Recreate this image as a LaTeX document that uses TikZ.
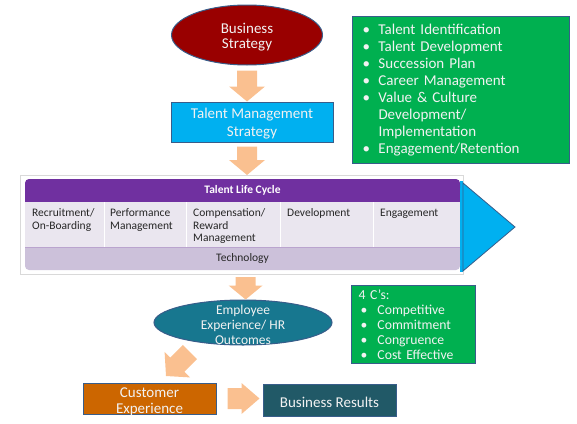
\documentclass[tikz,border=0pt]{standalone}
\usepackage{fontspec}
\setmainfont{Carlito}
\usetikzlibrary{calc,shapes.geometric}
\definecolor{peach}{HTML}{FAC090}
\definecolor{bsred}{HTML}{990000}
\definecolor{cyanb}{HTML}{00B0F0}
\definecolor{grn}{HTML}{00B050}
\definecolor{outl}{HTML}{385D8A}
\definecolor{purp}{HTML}{7030A0}
\definecolor{lav}{HTML}{EAE6EF}
\definecolor{lavtwo}{HTML}{CCC1DA}
\definecolor{tealone}{HTML}{17778F}
\definecolor{orng}{HTML}{CC6600}
\definecolor{dteal}{HTML}{215967}
\definecolor{wtxt}{HTML}{F2F2F2}
\definecolor{framegray}{HTML}{D9D9D9}
\definecolor{txtd}{HTML}{262626}
\newcommand\barrow[5]{\fill[peach] let \p1=(#1), \p2=(#2), \n1={atan2(\y2-\y1,\x2-\x1)}, \n2={veclen(\x2-\x1,\y2-\y1)} in [shift={(\p1)}, rotate=\n1] (0,-#3) -- ({\n2-#5},-#3) -- ({\n2-#5},-#4) -- (\n2,0) -- ({\n2-#5},#4) -- ({\n2-#5},#3) -- (0,#3) -- cycle;}
\newcommand\bl{\makebox[16pt][l]{•}}
\newcommand\cb{\makebox[19pt][l]{\hspace{2pt}•}}
\begin{document}
\begin{tikzpicture}[x=1pt,y=-1pt,every node/.style={inner sep=0pt},
  wt/.style={text=wtxt, align=center, font=\fontsize{15}{15}\selectfont},
  ov/.style={ellipse, draw=outl, line width=1pt},
  bx/.style={rectangle, draw=outl, line width=1pt},
  coltext/.style={anchor=north west, align=left, text=txtd, font=\fontsize{11.5}{12.5}\selectfont},
  divider/.style={white, line width=1pt}]
\useasboundingbox (0,0) rectangle (577,423);
% Business strategy
\node[ov, fill=bsred, minimum width=151pt, minimum height=60pt] (bs) at (247,35) {};
\node[wt] (bst) at (247,37.5) {Business\\Strategy};
% Talent management strategy
\node[bx, fill=cyanb, minimum width=162pt, minimum height=40pt] (tms) at (252,122) {};
\node[wt, font=\fontsize{15}{18}\selectfont] (tmst) at (252,124) {Talent Management\\Strategy};
% Top green box
\node[bx, fill=grn, minimum width=217pt, minimum height=147pt, anchor=north west, text=wtxt, align=left, text width=197pt, inner xsep=10pt, font=\fontsize{15}{17}\selectfont] (tm) at (352,16) {\bl Talent Identification\\\bl Talent Development\\\bl Succession Plan\\\bl Career Management\\\bl Value \& Culture\\\hspace*{16pt}Development/\\\hspace*{16pt}Implementation\\\bl Engagement/Retention};
% Talent life cycle table
\node[draw=framegray, fill=white, line width=1.2pt, minimum width=443pt, minimum height=99pt, anchor=north west] (tlc) at (20,175) {};
\fill[cyanb] (460,181) rectangle (463,272);
\fill[purp] (25,202) rectangle (460,186);
\fill[purp, rounded corners=4pt] (25,192) rectangle (460,179);
\fill[lav] (25,202) rectangle (460,247);
\fill[lavtwo] (25,247) rectangle (460,262);
\fill[lavtwo, rounded corners=4pt] (25,256) rectangle (460,270);
\draw[divider] (104,202) -- (104,247);
\draw[divider] (186,202) -- (186,247);
\draw[divider] (280,202) -- (280,247);
\draw[divider] (373,202) -- (373,247);
\draw[color=lavtwo!80!purp, line width=0.6pt] (25,247) -- (460,247);
\node[text=white, font=\bfseries\fontsize{11.5}{12}\selectfont] (hd) at (242.5,190) {Talent Life Cycle};
\node[coltext] (c1) at (32,207.75) {\strut Recruitment/\\On-Boarding};
\node[coltext] (c2) at (110,207.75) {\strut Performance\\Management};
\node[coltext] (c3) at (193,207.75) {\strut Compensation/\\Reward\\Management};
\node[coltext] (c4) at (287,207.75) {\strut Development};
\node[coltext] (c5) at (380,207.75) {\strut Engagement};
\node[text=txtd, font=\fontsize{11.5}{12}\selectfont] (tech) at (242.5,258.5) {Technology};
\filldraw[fill=cyanb, draw=outl, line width=0.8pt] (463,183) -- (515,227) -- (463,271) -- cycle;
% Employee experience
\node[ov, fill=tealone, minimum width=178pt, minimum height=45pt] (eho) at (243,322.5) {};
\node[wt, font=\fontsize{13.5}{15}\selectfont] (ehot) at (243,325) {Employee\\Experience/ HR\\Outcomes};
% 4 C's
\node[bx, fill=grn, minimum width=124pt, minimum height=78pt, anchor=north west, text width=110pt, inner xsep=7pt, align=left, text=wtxt, font=\fontsize{13.7}{15}\selectfont] (fc) at (351,285) {4 C’s:\\\cb Competitive\\\cb Commitment\\\cb Congruence\\\cb Cost Effective};
% Customer experience and business results
\node[bx, fill=orng, minimum width=133pt, minimum height=31pt] (cx) at (149.5,398.5) {};
\node[wt, font=\fontsize{15}{16}\selectfont] (cxt) at (149.5,401.5) {Customer\\Experience};
\node[bx, fill=dteal, minimum width=133pt, minimum height=32pt] (br) at (329.5,400) {};
\node[wt] (brt) at (329.5,402) {Business Results};
% Block arrows
\coordinate (a1s) at ($(bs.south)+(0,5)$);
\coordinate (a1t) at (tms.north -| a1s);
\coordinate (a2s) at ($(tms.south)+(-5,4)$);
\coordinate (a2t) at (tlc.north -| a2s);
\coordinate (a3s) at ($(tlc.south)+(3.5,2)$);
\coordinate (a3t) at (eho.north -| a3s);
\coordinate (a4s) at (190,352);
\coordinate (a4t) at (166,376);
\coordinate (a5s) at ($(cx.east)+(11,0)$);
\coordinate (a5t) at ($(a5s -| br.west)+(-3,0)$);
\barrow{a1s}{a1t}{10}{18}{15}
\barrow{a2s}{a2t}{10}{18}{15}
\barrow{a3s}{a3t}{10}{17}{14}
\barrow{a4s}{a4t}{10}{18}{16}
\barrow{a5s}{a5t}{10.5}{15.5}{18}
\end{tikzpicture}
\end{document}
